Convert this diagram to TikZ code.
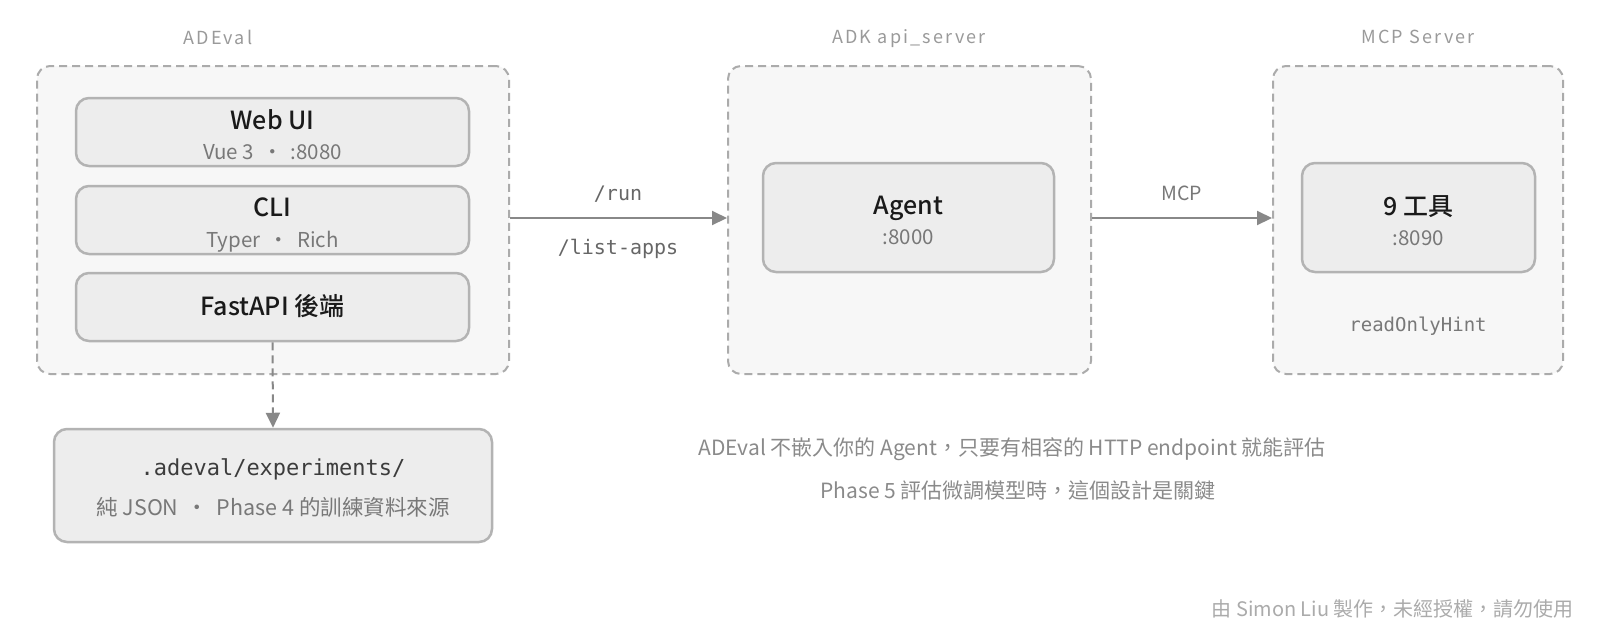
\documentclass[tikz,border=0pt]{standalone}
\usepackage{fontspec}
\setmainfont{Noto Sans CJK TC}
\setmonofont{DejaVu Sans Mono}
\newfontfamily\titlefont{Noto Sans CJK TC}[LetterSpace=12]
\newfontfamily\headfont{Noto Sans CJK TC Medium}
\usetikzlibrary{arrows.meta}
\definecolor{cfill}{HTML}{F7F7F7}
\definecolor{cborder}{HTML}{ABABAB}
\definecolor{bfill}{HTML}{EDEDED}
\definecolor{bborder}{HTML}{B3B3B3}
\definecolor{headc}{HTML}{1A1A1A}
\definecolor{subc}{HTML}{787878}
\definecolor{titlec}{HTML}{9A9A9A}
\definecolor{arrowc}{HTML}{888888}
\definecolor{notec}{HTML}{8A8A8A}
\definecolor{footc}{HTML}{ABABAB}
\definecolor{monoc}{HTML}{666666}
\tikzset{
  container/.style={draw=cborder, fill=cfill, line width=2pt, dash pattern=on 8pt off 5pt, rounded corners=13pt, inner sep=0pt},
  compbox/.style={draw=bborder, fill=bfill, line width=2.5pt, rounded corners=13pt, inner sep=0pt},
  heading/.style={font=\headfont\fontsize{25}{29}\selectfont, text=headc, inner sep=0pt, text depth=0pt},
  sub/.style={font=\fontsize{20.5}{24}\selectfont, text=subc, inner sep=0pt, text depth=0pt},
  grouptitle/.style={font=\titlefont\fontsize{18}{22}\selectfont, text=titlec, inner sep=0pt, text depth=0pt},
  monolabel/.style={font=\ttfamily\fontsize{20}{24}\selectfont, text=monoc, inner sep=0pt, text depth=0pt},
  note/.style={font=\fontsize{21}{25}\selectfont, text=notec, inner sep=0pt, text depth=0pt},
  flow/.style={draw=arrowc, line width=2pt, -{Triangle[length=15pt,width=14pt]}},
}
\begin{document}
\begin{tikzpicture}[x=1pt,y=-1pt]
\useasboundingbox (0,0) rectangle (1600,633);
\fill[white] (0,0) rectangle (1600,633);
% containers
\node[container, minimum width=472pt, minimum height=308pt] (adeval) at (273,220) {};
\node[container, minimum width=363pt, minimum height=308pt] (adk) at (909.5,220) {};
\node[container, minimum width=290pt, minimum height=308pt] (mcp) at (1418,220) {};
% group titles
\node[grouptitle] (tadeval) at (218,37) {ADEval};
\node[grouptitle] (tadk) at (909,37) {ADK api\_server};
\node[grouptitle] (tmcp) at (1418,37) {MCP Server};
% ADEval components
\node[compbox, minimum width=393pt, minimum height=68pt] (webui) at (272.5,132) {};
\node[heading] (webuiH) at (272.5,120) {Web UI};
\node[sub] (webuiS) at (272.5,152) {Vue 3 \,・\, :8080};
\node[compbox, minimum width=393pt, minimum height=68pt] (cli) at (272.5,220) {};
\node[heading] (cliH) at (272.5,207) {CLI};
\node[sub] (cliS) at (272.5,239) {Typer \,・\, Rich};
\node[compbox, minimum width=393pt, minimum height=68pt] (fastapi) at (272.5,307) {};
\node[heading] (fastapiH) at (272.5,305) {FastAPI 後端};
% experiments store
\node[compbox, minimum width=438pt, minimum height=113pt] (exp) at (273,485.5) {};
\node[monolabel, font=\ttfamily\fontsize{22}{26}\selectfont, text=headc!85] (expH) at (273,467) {.adeval/experiments/};
\node[sub, font=\fontsize{21.5}{25}\selectfont] (expS) at (273,506) {純 JSON \,・\, Phase 4 的訓練資料來源};
% agent
\node[compbox, minimum width=291pt, minimum height=109pt] (agent) at (908.5,217.5) {};
\node[heading] (agentH) at (908.5,205) {Agent};
\node[sub] (agentS) at (908.5,237) {:8000};
% tools
\node[compbox, minimum width=233pt, minimum height=109pt] (tools) at (1418.5,217.5) {};
\node[heading] (toolsH) at (1418.5,206) {9 工具};
\node[sub] (toolsS) at (1418.5,238) {:8090};
\node[monolabel, font=\ttfamily\fontsize{19}{23}\selectfont, text=subc] (hint) at (1418,324) {readOnlyHint};
% connectors
\draw[flow] ([yshift=2pt]adeval.east) -- ([yshift=2pt]adk.west);
\draw[flow] ([yshift=2pt]adk.east) -- ([yshift=2pt]mcp.west);
\draw[flow, dash pattern=on 8pt off 5pt] (fastapi.south) -- (exp.north);
\node[monolabel] (lrun) at (618,193) {/run};
\node[monolabel] (llist) at (618,247) {/list-apps};
\node[sub, font=\fontsize{19.5}{23}\selectfont] (lmcp) at (1182,193) {MCP};
% notes
\node[note] (note1) at (1012,447) {ADEval 不嵌入你的 Agent，只要有相容的 HTTP endpoint 就能評估};
\node[note] (note2) at (1018,490) {Phase 5 評估微調模型時，這個設計是關鍵};
\node[note, font=\fontsize{20}{24}\selectfont, text=footc, anchor=east] (footer) at (1574,608) {由 Simon Liu 製作，未經授權，請勿使用};
\end{tikzpicture}
\end{document}
